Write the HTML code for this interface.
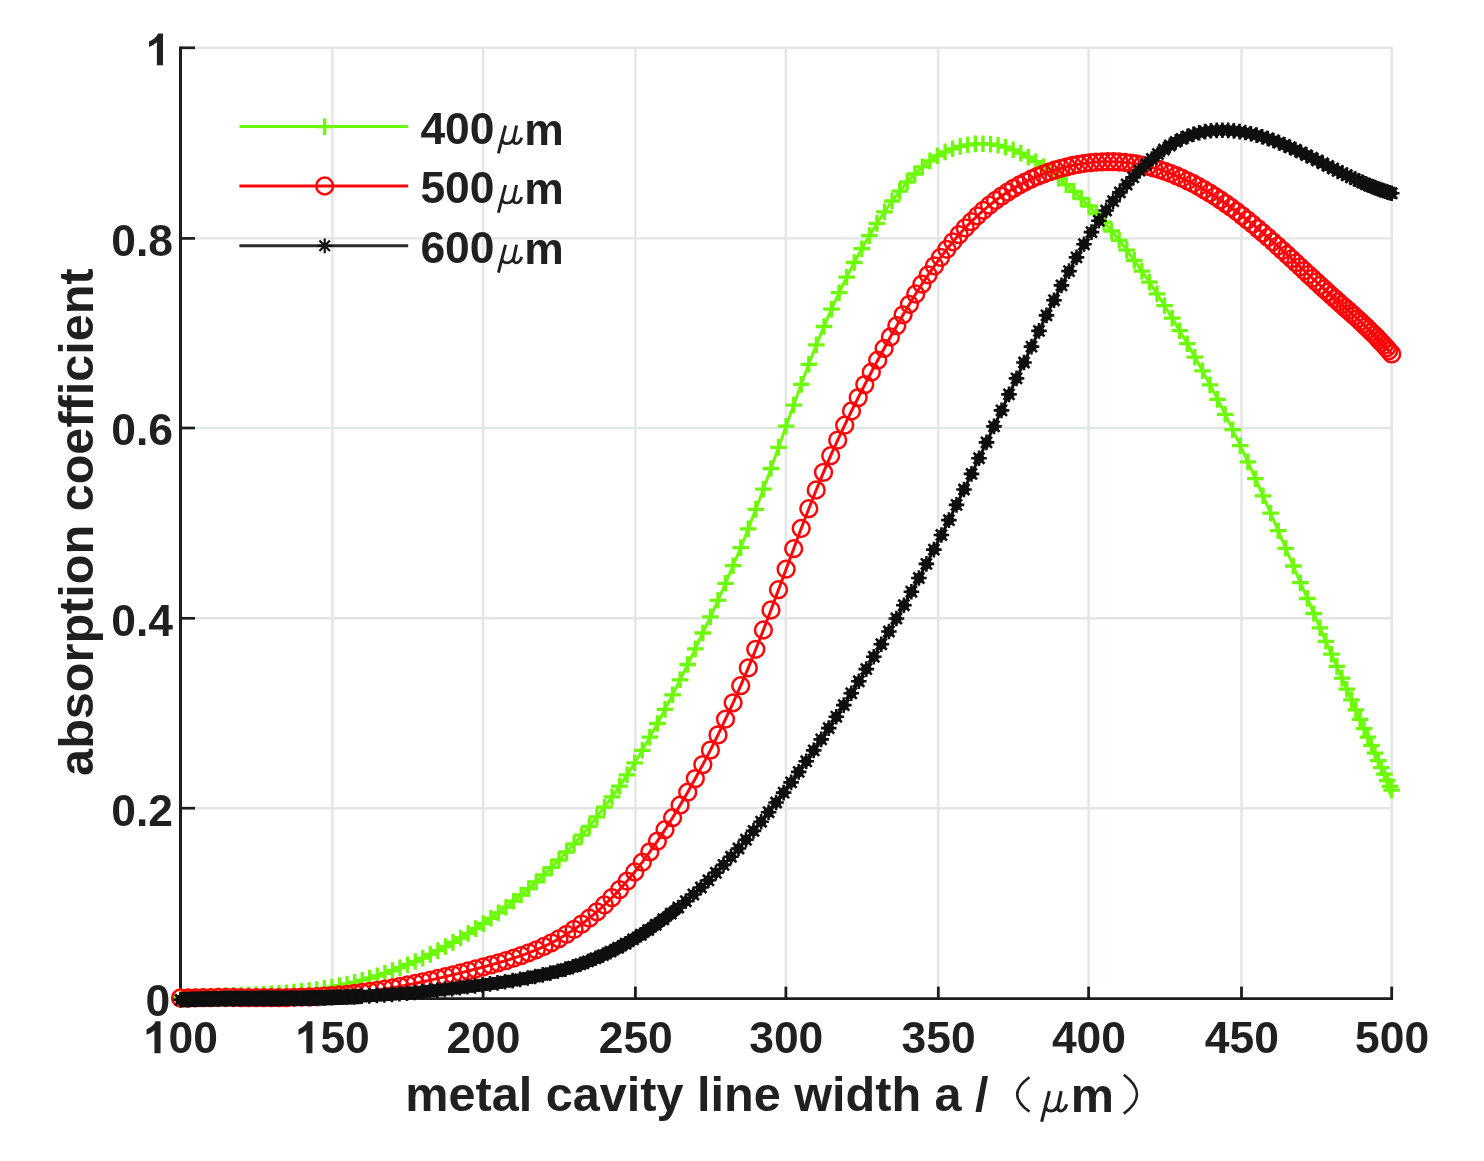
<!DOCTYPE html>
<html><head><meta charset="utf-8"><title>absorption coefficient vs metal cavity line width</title>
<style>html,body{margin:0;padding:0;background:#fff}body{width:1484px;height:1161px;overflow:hidden;font-family:"Liberation Sans",sans-serif}svg{display:block;filter:blur(0.6px)}text{font-family:"Liberation Sans",sans-serif;font-weight:bold;fill:#1f2121}</style>
</head><body>
<svg width="1484" height="1161" viewBox="0 0 1484 1161">
<rect width="1484" height="1161" fill="#fff"/>
<defs>
<g id="mp"><path d="M-8.3 0H8.3M0 -8.3V8.3" fill="none" stroke="#6dfa08" stroke-width="3.3"/></g>
<g id="mo"><circle r="8.4" fill="none" stroke="#fe0509" stroke-width="2.5"/></g>
<g id="ms"><path d="M-7.8 0H7.8M0 -7.8V7.8M-5.52 -5.52L5.52 5.52M-5.52 5.52L5.52 -5.52" fill="none" stroke="#0e0f0f" stroke-width="2.6"/><circle r="5.3" fill="#0e0f0f"/></g>
<path id="one" d="M1120 0H839V-1059Q685 -915 476 -846V-1101Q586 -1137 715 -1237.5Q844 -1338 892 -1472H1120Z" fill="#1f2121"/>
<path id="mu" d="M9.8 -18.6L3.2 9.2M6.4 -5Q7 -0.6 11 -0.6Q15.6 -0.6 17.6 -6.5M19.9 -18.6L17.2 -5Q16.4 -0.6 19.6 -0.6Q23 -0.6 24.6 -6.5" fill="none" stroke="#1f2121" stroke-width="2.7" stroke-linecap="butt"/>
<g id="msl"><path d="M-7.4 0H7.4M0 -7.4V7.4M-5.23 -5.23L5.23 5.23M-5.23 5.23L5.23 -5.23" fill="none" stroke="#0e0f0f" stroke-width="2.2"/></g>
</defs>
<g stroke="#e2e6e6" stroke-width="2.4" fill="none">
<path d="M332.4 46.5V998.6"/>
<path d="M483.1 46.5V998.6"/>
<path d="M635.4 46.5V998.6"/>
<path d="M785.9 46.5V998.6"/>
<path d="M938.3 46.5V998.6"/>
<path d="M1088.6 46.5V998.6"/>
<path d="M1241.5 46.5V998.6"/>
<path d="M1391.7 46.5V998.6"/>
<path d="M180.5 808.2H1393.0"/>
<path d="M180.5 618.3H1393.0"/>
<path d="M180.5 428.0H1393.0"/>
<path d="M180.5 238.4H1393.0"/>
<path d="M180.5 47.8H1393.0"/>
</g>
<g stroke="#1c1e1e" fill="none">
<path d="M180.5 46.5V999.9" stroke-width="3"/>
<path d="M179.0 998.6H1393.0" stroke-width="2.7"/>
<path d="M180.5 998.6V986.6" stroke-width="2.8"/>
<path d="M332.4 998.6V986.6" stroke-width="2.8"/>
<path d="M483.1 998.6V986.6" stroke-width="2.8"/>
<path d="M635.4 998.6V986.6" stroke-width="2.8"/>
<path d="M785.9 998.6V986.6" stroke-width="2.8"/>
<path d="M938.3 998.6V986.6" stroke-width="2.8"/>
<path d="M1088.6 998.6V986.6" stroke-width="2.8"/>
<path d="M1241.5 998.6V986.6" stroke-width="2.8"/>
<path d="M1391.7 998.6V986.6" stroke-width="2.8"/>
<path d="M180.5 998.6H195.0" stroke-width="2.7"/>
<path d="M180.5 808.2H195.0" stroke-width="2.7"/>
<path d="M180.5 618.3H195.0" stroke-width="2.7"/>
<path d="M180.5 428.0H195.0" stroke-width="2.7"/>
<path d="M180.5 238.4H195.0" stroke-width="2.7"/>
<path d="M180.5 47.8H195.0" stroke-width="2.7"/>
</g>
<g font-size="44.4">
<use href="#one" transform="translate(136.26 1053.20) scale(0.02168)"/>
<text x="168.5" y="1053.2">00</text>
<use href="#one" transform="translate(288.16 1053.20) scale(0.02168)"/>
<text x="320.4" y="1053.2">50</text>
<text x="446.4" y="1053.2">200</text>
<text x="598.7" y="1053.2">250</text>
<text x="749.2" y="1053.2">300</text>
<text x="901.6" y="1053.2">350</text>
<text x="1051.9" y="1053.2">400</text>
<text x="1204.8" y="1053.2">450</text>
<text x="1355.0" y="1053.2">500</text>
<text x="173" y="825.5" text-anchor="end">0.2</text>
<text x="173" y="635.6" text-anchor="end">0.4</text>
<text x="173" y="445.3" text-anchor="end">0.6</text>
<text x="173" y="255.7" text-anchor="end">0.8</text>
<text x="170.2" y="1016.2" text-anchor="end">0</text>
<use href="#one" transform="translate(138.70 65.30) scale(0.02168)"/>
</g>
<text id="xl" x="405.3" y="1111.4" font-size="48.6">metal cavity line width a /</text>
<text id="yl" transform="translate(92.7 775.9) rotate(-90)" font-size="48.6">absorption coefficient</text>
<text x="1070.8" y="1111.6" font-size="48.6">m</text>
<use href="#mu" transform="translate(1037.9 1111.6) scale(1.17 1.1)"/>
<path d="M1029.5 1077.2Q1004.9 1094.4 1029.5 1111.6" fill="none" stroke="#1f2121" stroke-width="2.6"/>
<path d="M1123.8 1074.8Q1150.2 1094.4 1123.8 1113.6" fill="none" stroke="#1f2121" stroke-width="2.6"/>
<polyline points="180.5,997.1 188.1,996.7 195.6,996.4 203.2,996.2 210.8,996.0 218.3,995.7 225.9,995.5 233.5,995.3 241.1,995.1 248.6,994.9 256.2,994.6 263.8,994.2 271.3,993.8 278.9,993.3 286.5,992.8 294.0,992.1 301.6,991.4 309.2,990.5 316.8,989.5 324.3,988.4 331.9,987.1 339.5,985.6 347.0,984.0 354.6,982.2 362.2,980.2 369.7,978.1 377.3,975.8 384.9,973.3 392.5,970.6 400.0,967.7 407.6,964.7 415.2,961.5 422.7,958.1 430.3,954.4 437.9,950.6 445.4,946.6 453.0,942.4 460.6,938.0 468.2,933.4 475.7,928.6 483.3,923.6 490.9,918.3 498.4,912.9 506.0,907.2 513.6,901.2 521.1,895.0 528.7,888.6 536.3,881.9 543.9,874.9 551.4,867.6 559.0,860.0 566.6,852.0 574.1,843.8 581.7,835.2 589.3,826.3 596.9,816.9 604.4,807.2 612.0,796.9 619.6,786.1 627.1,774.8 634.7,762.8 642.3,750.3 649.8,737.2 657.4,723.5 665.0,709.4 672.6,694.8 680.1,679.8 687.7,664.5 695.3,648.9 702.8,633.0 710.4,616.9 718.0,600.3 725.5,583.3 733.1,565.7 740.7,547.6 748.3,528.9 755.8,509.4 763.4,489.2 771.0,468.5 778.5,447.4 786.1,426.2 793.7,405.1 801.2,384.4 808.8,364.3 816.4,344.9 824.0,326.5 831.5,309.2 839.1,292.7 846.7,277.2 854.2,262.5 861.8,248.7 869.4,235.6 876.9,223.4 884.5,211.8 892.1,201.0 899.7,191.1 907.2,182.0 914.8,174.0 922.4,166.9 929.9,160.9 937.5,155.9 945.1,151.9 952.6,148.8 960.2,146.4 967.8,144.8 975.4,143.9 982.9,143.7 990.5,144.1 998.1,145.3 1005.6,147.2 1013.2,149.8 1020.8,153.1 1028.3,157.1 1035.9,161.6 1043.5,166.8 1051.1,172.3 1058.6,178.3 1066.2,184.7 1073.8,191.4 1081.3,198.5 1088.9,206.0 1096.5,213.9 1104.0,222.2 1111.6,231.0 1119.2,240.3 1126.8,250.1 1134.3,260.4 1141.9,271.1 1149.5,282.2 1157.0,293.8 1164.6,305.7 1172.2,318.1 1179.7,330.7 1187.3,343.7 1194.9,357.1 1202.5,370.8 1210.0,384.9 1217.6,399.4 1225.2,414.3 1232.7,429.7 1240.3,445.6 1247.9,461.9 1255.4,478.7 1263.0,495.8 1270.6,513.1 1278.2,530.7 1285.7,548.3 1293.3,566.0 1300.4,582.7 1307.3,598.5 1313.8,613.5 1320.0,627.8 1325.9,641.3 1331.5,654.2 1336.9,666.4 1342.0,678.1 1346.8,689.2 1351.5,699.8 1355.9,709.9 1360.1,719.4 1364.1,728.6 1367.9,737.2 1371.5,745.4 1375.0,753.2 1378.3,760.6 1381.4,767.6 1384.4,774.2 1387.3,780.5 1390.0,786.4 1391.7,790.2" fill="none" stroke="#6dfa08" stroke-width="3" stroke-linejoin="round"/>
<g>
<use href="#mp" x="180.5" y="997.1"/>
<use href="#mp" x="188.1" y="996.7"/>
<use href="#mp" x="195.6" y="996.4"/>
<use href="#mp" x="203.2" y="996.2"/>
<use href="#mp" x="210.8" y="996.0"/>
<use href="#mp" x="218.3" y="995.7"/>
<use href="#mp" x="225.9" y="995.5"/>
<use href="#mp" x="233.5" y="995.3"/>
<use href="#mp" x="241.1" y="995.1"/>
<use href="#mp" x="248.6" y="994.9"/>
<use href="#mp" x="256.2" y="994.6"/>
<use href="#mp" x="263.8" y="994.2"/>
<use href="#mp" x="271.3" y="993.8"/>
<use href="#mp" x="278.9" y="993.3"/>
<use href="#mp" x="286.5" y="992.8"/>
<use href="#mp" x="294.0" y="992.1"/>
<use href="#mp" x="301.6" y="991.4"/>
<use href="#mp" x="309.2" y="990.5"/>
<use href="#mp" x="316.8" y="989.5"/>
<use href="#mp" x="324.3" y="988.4"/>
<use href="#mp" x="331.9" y="987.1"/>
<use href="#mp" x="339.5" y="985.6"/>
<use href="#mp" x="347.0" y="984.0"/>
<use href="#mp" x="354.6" y="982.2"/>
<use href="#mp" x="362.2" y="980.2"/>
<use href="#mp" x="369.7" y="978.1"/>
<use href="#mp" x="377.3" y="975.8"/>
<use href="#mp" x="384.9" y="973.3"/>
<use href="#mp" x="392.5" y="970.6"/>
<use href="#mp" x="400.0" y="967.7"/>
<use href="#mp" x="407.6" y="964.7"/>
<use href="#mp" x="415.2" y="961.5"/>
<use href="#mp" x="422.7" y="958.1"/>
<use href="#mp" x="430.3" y="954.4"/>
<use href="#mp" x="437.9" y="950.6"/>
<use href="#mp" x="445.4" y="946.6"/>
<use href="#mp" x="453.0" y="942.4"/>
<use href="#mp" x="460.6" y="938.0"/>
<use href="#mp" x="468.2" y="933.4"/>
<use href="#mp" x="475.7" y="928.6"/>
<use href="#mp" x="483.3" y="923.6"/>
<use href="#mp" x="490.9" y="918.3"/>
<use href="#mp" x="498.4" y="912.9"/>
<use href="#mp" x="506.0" y="907.2"/>
<use href="#mp" x="513.6" y="901.2"/>
<use href="#mp" x="521.1" y="895.0"/>
<use href="#mp" x="528.7" y="888.6"/>
<use href="#mp" x="536.3" y="881.9"/>
<use href="#mp" x="543.9" y="874.9"/>
<use href="#mp" x="551.4" y="867.6"/>
<use href="#mp" x="559.0" y="860.0"/>
<use href="#mp" x="566.6" y="852.0"/>
<use href="#mp" x="574.1" y="843.8"/>
<use href="#mp" x="581.7" y="835.2"/>
<use href="#mp" x="589.3" y="826.3"/>
<use href="#mp" x="596.9" y="816.9"/>
<use href="#mp" x="604.4" y="807.2"/>
<use href="#mp" x="612.0" y="796.9"/>
<use href="#mp" x="619.6" y="786.1"/>
<use href="#mp" x="627.1" y="774.8"/>
<use href="#mp" x="634.7" y="762.8"/>
<use href="#mp" x="642.3" y="750.3"/>
<use href="#mp" x="649.8" y="737.2"/>
<use href="#mp" x="657.4" y="723.5"/>
<use href="#mp" x="665.0" y="709.4"/>
<use href="#mp" x="672.6" y="694.8"/>
<use href="#mp" x="680.1" y="679.8"/>
<use href="#mp" x="687.7" y="664.5"/>
<use href="#mp" x="695.3" y="648.9"/>
<use href="#mp" x="702.8" y="633.0"/>
<use href="#mp" x="710.4" y="616.9"/>
<use href="#mp" x="718.0" y="600.3"/>
<use href="#mp" x="725.5" y="583.3"/>
<use href="#mp" x="733.1" y="565.7"/>
<use href="#mp" x="740.7" y="547.6"/>
<use href="#mp" x="748.3" y="528.9"/>
<use href="#mp" x="755.8" y="509.4"/>
<use href="#mp" x="763.4" y="489.2"/>
<use href="#mp" x="771.0" y="468.5"/>
<use href="#mp" x="778.5" y="447.4"/>
<use href="#mp" x="786.1" y="426.2"/>
<use href="#mp" x="793.7" y="405.1"/>
<use href="#mp" x="801.2" y="384.4"/>
<use href="#mp" x="808.8" y="364.3"/>
<use href="#mp" x="816.4" y="344.9"/>
<use href="#mp" x="824.0" y="326.5"/>
<use href="#mp" x="831.5" y="309.2"/>
<use href="#mp" x="839.1" y="292.7"/>
<use href="#mp" x="846.7" y="277.2"/>
<use href="#mp" x="854.2" y="262.5"/>
<use href="#mp" x="861.8" y="248.7"/>
<use href="#mp" x="869.4" y="235.6"/>
<use href="#mp" x="876.9" y="223.4"/>
<use href="#mp" x="884.5" y="211.8"/>
<use href="#mp" x="892.1" y="201.0"/>
<use href="#mp" x="899.7" y="191.1"/>
<use href="#mp" x="907.2" y="182.0"/>
<use href="#mp" x="914.8" y="174.0"/>
<use href="#mp" x="922.4" y="166.9"/>
<use href="#mp" x="929.9" y="160.9"/>
<use href="#mp" x="937.5" y="155.9"/>
<use href="#mp" x="945.1" y="151.9"/>
<use href="#mp" x="952.6" y="148.8"/>
<use href="#mp" x="960.2" y="146.4"/>
<use href="#mp" x="967.8" y="144.8"/>
<use href="#mp" x="975.4" y="143.9"/>
<use href="#mp" x="982.9" y="143.7"/>
<use href="#mp" x="990.5" y="144.1"/>
<use href="#mp" x="998.1" y="145.3"/>
<use href="#mp" x="1005.6" y="147.2"/>
<use href="#mp" x="1013.2" y="149.8"/>
<use href="#mp" x="1020.8" y="153.1"/>
<use href="#mp" x="1028.3" y="157.1"/>
<use href="#mp" x="1035.9" y="161.6"/>
<use href="#mp" x="1043.5" y="166.8"/>
<use href="#mp" x="1051.1" y="172.3"/>
<use href="#mp" x="1058.6" y="178.3"/>
<use href="#mp" x="1066.2" y="184.7"/>
<use href="#mp" x="1073.8" y="191.4"/>
<use href="#mp" x="1081.3" y="198.5"/>
<use href="#mp" x="1088.9" y="206.0"/>
<use href="#mp" x="1096.5" y="213.9"/>
<use href="#mp" x="1104.0" y="222.2"/>
<use href="#mp" x="1111.6" y="231.0"/>
<use href="#mp" x="1119.2" y="240.3"/>
<use href="#mp" x="1126.8" y="250.1"/>
<use href="#mp" x="1134.3" y="260.4"/>
<use href="#mp" x="1141.9" y="271.1"/>
<use href="#mp" x="1149.5" y="282.2"/>
<use href="#mp" x="1157.0" y="293.8"/>
<use href="#mp" x="1164.6" y="305.7"/>
<use href="#mp" x="1172.2" y="318.1"/>
<use href="#mp" x="1179.7" y="330.7"/>
<use href="#mp" x="1187.3" y="343.7"/>
<use href="#mp" x="1194.9" y="357.1"/>
<use href="#mp" x="1202.5" y="370.8"/>
<use href="#mp" x="1210.0" y="384.9"/>
<use href="#mp" x="1217.6" y="399.4"/>
<use href="#mp" x="1225.2" y="414.3"/>
<use href="#mp" x="1232.7" y="429.7"/>
<use href="#mp" x="1240.3" y="445.6"/>
<use href="#mp" x="1247.9" y="461.9"/>
<use href="#mp" x="1255.4" y="478.7"/>
<use href="#mp" x="1263.0" y="495.8"/>
<use href="#mp" x="1270.6" y="513.1"/>
<use href="#mp" x="1278.2" y="530.7"/>
<use href="#mp" x="1285.7" y="548.3"/>
<use href="#mp" x="1293.3" y="566.0"/>
<use href="#mp" x="1300.4" y="582.7"/>
<use href="#mp" x="1307.3" y="598.5"/>
<use href="#mp" x="1313.8" y="613.5"/>
<use href="#mp" x="1320.0" y="627.8"/>
<use href="#mp" x="1325.9" y="641.3"/>
<use href="#mp" x="1331.5" y="654.2"/>
<use href="#mp" x="1336.9" y="666.4"/>
<use href="#mp" x="1342.0" y="678.1"/>
<use href="#mp" x="1346.8" y="689.2"/>
<use href="#mp" x="1351.5" y="699.8"/>
<use href="#mp" x="1355.9" y="709.9"/>
<use href="#mp" x="1360.1" y="719.4"/>
<use href="#mp" x="1364.1" y="728.6"/>
<use href="#mp" x="1367.9" y="737.2"/>
<use href="#mp" x="1371.5" y="745.4"/>
<use href="#mp" x="1375.0" y="753.2"/>
<use href="#mp" x="1378.3" y="760.6"/>
<use href="#mp" x="1381.4" y="767.6"/>
<use href="#mp" x="1384.4" y="774.2"/>
<use href="#mp" x="1387.3" y="780.5"/>
<use href="#mp" x="1390.0" y="786.4"/>
<use href="#mp" x="1391.7" y="790.2"/>
</g>
<polyline points="180.5,998.0 188.1,998.0 195.6,997.8 203.2,997.7 210.8,997.6 218.3,997.5 225.9,997.5 233.5,997.5 241.1,997.6 248.6,997.6 256.2,997.6 263.8,997.7 271.3,997.7 278.9,997.6 286.5,997.6 294.0,997.4 301.6,997.2 309.2,997.0 316.8,996.6 324.3,996.2 331.9,995.7 339.5,995.0 347.0,994.3 354.6,993.4 362.2,992.5 369.7,991.4 377.3,990.3 384.9,989.1 392.5,987.8 400.0,986.4 407.6,984.9 415.2,983.4 422.7,981.8 430.3,980.1 437.9,978.4 445.4,976.6 453.0,974.8 460.6,972.9 468.2,971.0 475.7,969.0 483.3,967.0 490.9,964.9 498.4,962.8 506.0,960.6 513.6,958.2 521.1,955.6 528.7,952.8 536.3,949.8 543.9,946.5 551.4,942.8 559.0,938.8 566.6,934.3 574.1,929.4 581.7,924.1 589.3,918.2 596.9,911.9 604.4,905.0 612.0,897.6 619.6,889.6 627.1,881.1 634.7,872.0 642.3,862.2 649.8,851.9 657.4,841.1 665.0,829.7 672.6,817.7 680.1,805.2 687.7,792.2 695.3,778.6 702.8,764.6 710.4,750.1 718.0,734.9 725.5,719.2 733.1,702.8 740.7,685.7 748.3,667.9 755.8,649.3 763.4,630.0 771.0,610.0 778.5,589.7 786.1,569.2 793.7,548.7 801.2,528.5 808.8,508.7 816.2,490.0 823.5,472.4 830.7,455.7 837.7,440.1 844.7,425.2 851.5,411.0 858.2,397.6 864.8,384.6 871.3,372.2 877.7,360.2 884.1,348.5 890.4,337.0 896.8,325.7 903.1,314.8 909.4,304.3 915.7,294.0 921.9,284.2 928.2,274.8 934.4,265.9 940.6,257.4 946.8,249.3 952.9,241.8 959.1,234.6 965.2,227.9 971.3,221.7 977.4,215.8 983.5,210.3 989.5,205.2 995.5,200.5 1001.6,196.1 1007.6,192.1 1013.5,188.4 1019.5,185.0 1025.5,181.8 1031.4,179.0 1037.4,176.4 1043.3,174.1 1049.2,171.9 1055.1,170.0 1061.0,168.3 1066.9,166.8 1072.7,165.5 1078.6,164.4 1084.4,163.4 1090.3,162.7 1096.1,162.1 1101.9,161.8 1107.7,161.7 1113.5,161.7 1119.2,162.0 1125.0,162.5 1130.8,163.1 1136.5,164.0 1142.2,165.1 1147.9,166.4 1153.6,167.9 1159.3,169.5 1165.0,171.4 1170.6,173.5 1176.3,175.7 1181.8,178.1 1187.4,180.8 1193.0,183.5 1198.5,186.5 1204.0,189.6 1209.5,192.9 1214.9,196.3 1220.4,199.9 1225.8,203.6 1231.2,207.5 1236.6,211.5 1241.9,215.6 1247.3,219.9 1252.6,224.2 1257.8,228.6 1262.9,233.0 1268.0,237.4 1272.9,241.8 1277.7,246.1 1282.4,250.4 1287.0,254.6 1291.5,258.8 1295.8,262.8 1300.1,266.8 1304.3,270.7 1308.5,274.6 1312.5,278.3 1316.4,281.9 1320.3,285.5 1324.0,288.9 1327.7,292.2 1331.3,295.5 1334.8,298.6 1338.3,301.7 1341.6,304.7 1344.9,307.6 1348.2,310.4 1351.3,313.3 1354.4,316.0 1357.4,318.8 1360.4,321.5 1363.2,324.2 1366.1,326.9 1368.8,329.5 1371.5,332.2 1374.2,334.8 1376.8,337.4 1379.3,340.1 1381.7,342.7 1384.2,345.3 1386.5,347.9 1388.8,350.6 1391.7,353.9" fill="none" stroke="#fe0509" stroke-width="3" stroke-linejoin="round"/>
<g>
<use href="#mo" x="180.5" y="998.0"/>
<use href="#mo" x="188.1" y="998.0"/>
<use href="#mo" x="195.6" y="997.8"/>
<use href="#mo" x="203.2" y="997.7"/>
<use href="#mo" x="210.8" y="997.6"/>
<use href="#mo" x="218.3" y="997.5"/>
<use href="#mo" x="225.9" y="997.5"/>
<use href="#mo" x="233.5" y="997.5"/>
<use href="#mo" x="241.1" y="997.6"/>
<use href="#mo" x="248.6" y="997.6"/>
<use href="#mo" x="256.2" y="997.6"/>
<use href="#mo" x="263.8" y="997.7"/>
<use href="#mo" x="271.3" y="997.7"/>
<use href="#mo" x="278.9" y="997.6"/>
<use href="#mo" x="286.5" y="997.6"/>
<use href="#mo" x="294.0" y="997.4"/>
<use href="#mo" x="301.6" y="997.2"/>
<use href="#mo" x="309.2" y="997.0"/>
<use href="#mo" x="316.8" y="996.6"/>
<use href="#mo" x="324.3" y="996.2"/>
<use href="#mo" x="331.9" y="995.7"/>
<use href="#mo" x="339.5" y="995.0"/>
<use href="#mo" x="347.0" y="994.3"/>
<use href="#mo" x="354.6" y="993.4"/>
<use href="#mo" x="362.2" y="992.5"/>
<use href="#mo" x="369.7" y="991.4"/>
<use href="#mo" x="377.3" y="990.3"/>
<use href="#mo" x="384.9" y="989.1"/>
<use href="#mo" x="392.5" y="987.8"/>
<use href="#mo" x="400.0" y="986.4"/>
<use href="#mo" x="407.6" y="984.9"/>
<use href="#mo" x="415.2" y="983.4"/>
<use href="#mo" x="422.7" y="981.8"/>
<use href="#mo" x="430.3" y="980.1"/>
<use href="#mo" x="437.9" y="978.4"/>
<use href="#mo" x="445.4" y="976.6"/>
<use href="#mo" x="453.0" y="974.8"/>
<use href="#mo" x="460.6" y="972.9"/>
<use href="#mo" x="468.2" y="971.0"/>
<use href="#mo" x="475.7" y="969.0"/>
<use href="#mo" x="483.3" y="967.0"/>
<use href="#mo" x="490.9" y="964.9"/>
<use href="#mo" x="498.4" y="962.8"/>
<use href="#mo" x="506.0" y="960.6"/>
<use href="#mo" x="513.6" y="958.2"/>
<use href="#mo" x="521.1" y="955.6"/>
<use href="#mo" x="528.7" y="952.8"/>
<use href="#mo" x="536.3" y="949.8"/>
<use href="#mo" x="543.9" y="946.5"/>
<use href="#mo" x="551.4" y="942.8"/>
<use href="#mo" x="559.0" y="938.8"/>
<use href="#mo" x="566.6" y="934.3"/>
<use href="#mo" x="574.1" y="929.4"/>
<use href="#mo" x="581.7" y="924.1"/>
<use href="#mo" x="589.3" y="918.2"/>
<use href="#mo" x="596.9" y="911.9"/>
<use href="#mo" x="604.4" y="905.0"/>
<use href="#mo" x="612.0" y="897.6"/>
<use href="#mo" x="619.6" y="889.6"/>
<use href="#mo" x="627.1" y="881.1"/>
<use href="#mo" x="634.7" y="872.0"/>
<use href="#mo" x="642.3" y="862.2"/>
<use href="#mo" x="649.8" y="851.9"/>
<use href="#mo" x="657.4" y="841.1"/>
<use href="#mo" x="665.0" y="829.7"/>
<use href="#mo" x="672.6" y="817.7"/>
<use href="#mo" x="680.1" y="805.2"/>
<use href="#mo" x="687.7" y="792.2"/>
<use href="#mo" x="695.3" y="778.6"/>
<use href="#mo" x="702.8" y="764.6"/>
<use href="#mo" x="710.4" y="750.1"/>
<use href="#mo" x="718.0" y="734.9"/>
<use href="#mo" x="725.5" y="719.2"/>
<use href="#mo" x="733.1" y="702.8"/>
<use href="#mo" x="740.7" y="685.7"/>
<use href="#mo" x="748.3" y="667.9"/>
<use href="#mo" x="755.8" y="649.3"/>
<use href="#mo" x="763.4" y="630.0"/>
<use href="#mo" x="771.0" y="610.0"/>
<use href="#mo" x="778.5" y="589.7"/>
<use href="#mo" x="786.1" y="569.2"/>
<use href="#mo" x="793.7" y="548.7"/>
<use href="#mo" x="801.2" y="528.5"/>
<use href="#mo" x="808.8" y="508.7"/>
<use href="#mo" x="816.2" y="490.0"/>
<use href="#mo" x="823.5" y="472.4"/>
<use href="#mo" x="830.7" y="455.7"/>
<use href="#mo" x="837.7" y="440.1"/>
<use href="#mo" x="844.7" y="425.2"/>
<use href="#mo" x="851.5" y="411.0"/>
<use href="#mo" x="858.2" y="397.6"/>
<use href="#mo" x="864.8" y="384.6"/>
<use href="#mo" x="871.3" y="372.2"/>
<use href="#mo" x="877.7" y="360.2"/>
<use href="#mo" x="884.1" y="348.5"/>
<use href="#mo" x="890.4" y="337.0"/>
<use href="#mo" x="896.8" y="325.7"/>
<use href="#mo" x="903.1" y="314.8"/>
<use href="#mo" x="909.4" y="304.3"/>
<use href="#mo" x="915.7" y="294.0"/>
<use href="#mo" x="921.9" y="284.2"/>
<use href="#mo" x="928.2" y="274.8"/>
<use href="#mo" x="934.4" y="265.9"/>
<use href="#mo" x="940.6" y="257.4"/>
<use href="#mo" x="946.8" y="249.3"/>
<use href="#mo" x="952.9" y="241.8"/>
<use href="#mo" x="959.1" y="234.6"/>
<use href="#mo" x="965.2" y="227.9"/>
<use href="#mo" x="971.3" y="221.7"/>
<use href="#mo" x="977.4" y="215.8"/>
<use href="#mo" x="983.5" y="210.3"/>
<use href="#mo" x="989.5" y="205.2"/>
<use href="#mo" x="995.5" y="200.5"/>
<use href="#mo" x="1001.6" y="196.1"/>
<use href="#mo" x="1007.6" y="192.1"/>
<use href="#mo" x="1013.5" y="188.4"/>
<use href="#mo" x="1019.5" y="185.0"/>
<use href="#mo" x="1025.5" y="181.8"/>
<use href="#mo" x="1031.4" y="179.0"/>
<use href="#mo" x="1037.4" y="176.4"/>
<use href="#mo" x="1043.3" y="174.1"/>
<use href="#mo" x="1049.2" y="171.9"/>
<use href="#mo" x="1055.1" y="170.0"/>
<use href="#mo" x="1061.0" y="168.3"/>
<use href="#mo" x="1066.9" y="166.8"/>
<use href="#mo" x="1072.7" y="165.5"/>
<use href="#mo" x="1078.6" y="164.4"/>
<use href="#mo" x="1084.4" y="163.4"/>
<use href="#mo" x="1090.3" y="162.7"/>
<use href="#mo" x="1096.1" y="162.1"/>
<use href="#mo" x="1101.9" y="161.8"/>
<use href="#mo" x="1107.7" y="161.7"/>
<use href="#mo" x="1113.5" y="161.7"/>
<use href="#mo" x="1119.2" y="162.0"/>
<use href="#mo" x="1125.0" y="162.5"/>
<use href="#mo" x="1130.8" y="163.1"/>
<use href="#mo" x="1136.5" y="164.0"/>
<use href="#mo" x="1142.2" y="165.1"/>
<use href="#mo" x="1147.9" y="166.4"/>
<use href="#mo" x="1153.6" y="167.9"/>
<use href="#mo" x="1159.3" y="169.5"/>
<use href="#mo" x="1165.0" y="171.4"/>
<use href="#mo" x="1170.6" y="173.5"/>
<use href="#mo" x="1176.3" y="175.7"/>
<use href="#mo" x="1181.8" y="178.1"/>
<use href="#mo" x="1187.4" y="180.8"/>
<use href="#mo" x="1193.0" y="183.5"/>
<use href="#mo" x="1198.5" y="186.5"/>
<use href="#mo" x="1204.0" y="189.6"/>
<use href="#mo" x="1209.5" y="192.9"/>
<use href="#mo" x="1214.9" y="196.3"/>
<use href="#mo" x="1220.4" y="199.9"/>
<use href="#mo" x="1225.8" y="203.6"/>
<use href="#mo" x="1231.2" y="207.5"/>
<use href="#mo" x="1236.6" y="211.5"/>
<use href="#mo" x="1241.9" y="215.6"/>
<use href="#mo" x="1247.3" y="219.9"/>
<use href="#mo" x="1252.6" y="224.2"/>
<use href="#mo" x="1257.8" y="228.6"/>
<use href="#mo" x="1262.9" y="233.0"/>
<use href="#mo" x="1268.0" y="237.4"/>
<use href="#mo" x="1272.9" y="241.8"/>
<use href="#mo" x="1277.7" y="246.1"/>
<use href="#mo" x="1282.4" y="250.4"/>
<use href="#mo" x="1287.0" y="254.6"/>
<use href="#mo" x="1291.5" y="258.8"/>
<use href="#mo" x="1295.8" y="262.8"/>
<use href="#mo" x="1300.1" y="266.8"/>
<use href="#mo" x="1304.3" y="270.7"/>
<use href="#mo" x="1308.5" y="274.6"/>
<use href="#mo" x="1312.5" y="278.3"/>
<use href="#mo" x="1316.4" y="281.9"/>
<use href="#mo" x="1320.3" y="285.5"/>
<use href="#mo" x="1324.0" y="288.9"/>
<use href="#mo" x="1327.7" y="292.2"/>
<use href="#mo" x="1331.3" y="295.5"/>
<use href="#mo" x="1334.8" y="298.6"/>
<use href="#mo" x="1338.3" y="301.7"/>
<use href="#mo" x="1341.6" y="304.7"/>
<use href="#mo" x="1344.9" y="307.6"/>
<use href="#mo" x="1348.2" y="310.4"/>
<use href="#mo" x="1351.3" y="313.3"/>
<use href="#mo" x="1354.4" y="316.0"/>
<use href="#mo" x="1357.4" y="318.8"/>
<use href="#mo" x="1360.4" y="321.5"/>
<use href="#mo" x="1363.2" y="324.2"/>
<use href="#mo" x="1366.1" y="326.9"/>
<use href="#mo" x="1368.8" y="329.5"/>
<use href="#mo" x="1371.5" y="332.2"/>
<use href="#mo" x="1374.2" y="334.8"/>
<use href="#mo" x="1376.8" y="337.4"/>
<use href="#mo" x="1379.3" y="340.1"/>
<use href="#mo" x="1381.7" y="342.7"/>
<use href="#mo" x="1384.2" y="345.3"/>
<use href="#mo" x="1386.5" y="347.9"/>
<use href="#mo" x="1388.8" y="350.6"/>
<use href="#mo" x="1391.7" y="353.9"/>
</g>
<polyline points="180.5,999.8 188.1,999.5 195.6,999.3 203.2,999.0 210.7,998.9 218.3,998.7 225.8,998.6 233.4,998.6 241.0,998.5 248.5,998.5 256.1,998.5 263.6,998.4 271.2,998.4 278.7,998.4 286.3,998.3 293.8,998.3 301.4,998.2 308.9,998.1 316.5,997.9 324.0,997.7 331.6,997.5 339.1,997.3 346.7,997.0 354.2,996.7 361.8,996.3 369.3,995.9 376.9,995.4 384.4,994.9 391.9,994.4 399.5,993.8 407.0,993.2 414.6,992.5 422.1,991.8 429.7,991.0 437.2,990.3 444.8,989.4 452.3,988.6 459.8,987.7 467.4,986.8 474.9,985.9 482.5,984.9 490.0,983.9 497.5,982.9 505.1,981.8 512.6,980.6 520.1,979.4 527.7,978.0 535.2,976.5 542.8,974.9 550.3,973.1 557.8,971.2 565.4,969.1 572.9,966.7 580.4,964.2 588.0,961.4 595.5,958.3 603.0,955.1 610.5,951.6 618.1,947.8 625.6,943.7 633.1,939.4 640.7,934.8 648.2,930.0 655.7,924.8 663.3,919.3 670.8,913.6 678.3,907.5 685.8,901.2 693.4,894.5 700.9,887.5 708.4,880.3 715.9,872.8 723.5,864.9 731.0,856.8 738.5,848.5 746.0,839.8 753.5,830.9 761.1,821.7 768.6,812.2 776.1,802.5 783.6,792.6 791.1,782.4 798.7,771.9 806.2,761.3 813.7,750.4 821.2,739.4 828.7,728.1 836.3,716.7 843.8,705.1 851.3,693.3 858.8,681.3 866.3,669.1 873.8,656.8 881.3,644.2 888.9,631.5 896.4,618.5 903.9,605.2 911.4,591.7 918.9,578.0 926.4,563.9 933.9,549.6 941.4,535.0 948.9,520.1 956.5,504.9 964.0,489.5 971.5,473.9 979.0,458.2 986.5,442.4 994.0,426.4 1001.5,410.4 1009.0,394.4 1016.5,378.4 1024.0,362.5 1031.5,346.6 1039.0,330.9 1046.5,315.4 1054.0,300.2 1061.5,285.4 1069.0,271.1 1076.5,257.4 1084.0,244.3 1091.5,232.1 1098.9,220.8 1106.1,210.5 1113.1,201.1 1119.9,192.4 1126.6,184.5 1133.2,177.3 1139.5,170.6 1145.8,164.5 1151.9,159.0 1157.9,154.0 1163.9,149.5 1169.8,145.5 1175.7,141.9 1181.6,138.9 1187.5,136.4 1193.4,134.3 1199.2,132.8 1205.1,131.6 1210.9,130.8 1216.7,130.4 1222.4,130.3 1228.2,130.4 1233.9,130.9 1239.6,131.6 1245.3,132.5 1250.9,133.7 1256.6,135.1 1262.2,136.7 1267.8,138.5 1273.4,140.5 1279.0,142.6 1284.5,144.9 1290.0,147.3 1295.5,149.8 1301.0,152.4 1306.5,155.1 1311.9,157.8 1317.4,160.5 1322.8,163.3 1328.0,166.0 1333.1,168.5 1337.8,170.9 1342.4,173.2 1346.7,175.3 1350.9,177.3 1354.8,179.1 1358.6,180.8 1362.1,182.4 1365.5,183.9 1368.8,185.2 1371.9,186.5 1374.8,187.6 1377.6,188.7 1380.3,189.6 1382.8,190.5 1385.2,191.3 1387.5,192.1 1389.7,192.7 1391.7,193.3" fill="none" stroke="#0e0f0f" stroke-width="3" stroke-linejoin="round"/>
<polyline points="180.5,999.8 188.1,999.5 195.6,999.3 203.2,999.0 210.7,998.9 218.3,998.7 225.8,998.6 233.4,998.6 241.0,998.5 248.5,998.5 256.1,998.5 263.6,998.4 271.2,998.4 278.7,998.4 286.3,998.3 293.8,998.3 301.4,998.2 308.9,998.1 316.5,997.9 324.0,997.7 331.6,997.5 339.1,997.3 346.7,997.0 354.2,996.7 361.8,996.3" fill="none" stroke="#0e0f0f" stroke-width="15.6"/>
<polyline points="354.2,996.7 361.8,996.3 369.3,995.9 376.9,995.4 384.4,994.9 391.9,994.4 399.5,993.8 407.0,993.2 414.6,992.5 422.1,991.8 429.7,991.0 437.2,990.3 444.8,989.4 452.3,988.6 459.8,987.7 467.4,986.8 474.9,985.9 482.5,984.9 490.0,983.9 497.5,982.9 505.1,981.8 512.6,980.6 520.1,979.4 527.7,978.0 535.2,976.5 542.8,974.9 550.3,973.1 557.8,971.2 565.4,969.1 572.9,966.7 580.4,964.2 588.0,961.4 595.5,958.3 603.0,955.1 610.5,951.6 618.1,947.8 625.6,943.7 633.1,939.4 640.7,934.8 648.2,930.0 655.7,924.8 663.3,919.3 670.8,913.6 678.3,907.5" fill="none" stroke="#0e0f0f" stroke-width="12.6"/>
<g>
<use href="#ms" x="180.5" y="999.8"/>
<use href="#ms" x="188.1" y="999.5"/>
<use href="#ms" x="195.6" y="999.3"/>
<use href="#ms" x="203.2" y="999.0"/>
<use href="#ms" x="210.7" y="998.9"/>
<use href="#ms" x="218.3" y="998.7"/>
<use href="#ms" x="225.8" y="998.6"/>
<use href="#ms" x="233.4" y="998.6"/>
<use href="#ms" x="241.0" y="998.5"/>
<use href="#ms" x="248.5" y="998.5"/>
<use href="#ms" x="256.1" y="998.5"/>
<use href="#ms" x="263.6" y="998.4"/>
<use href="#ms" x="271.2" y="998.4"/>
<use href="#ms" x="278.7" y="998.4"/>
<use href="#ms" x="286.3" y="998.3"/>
<use href="#ms" x="293.8" y="998.3"/>
<use href="#ms" x="301.4" y="998.2"/>
<use href="#ms" x="308.9" y="998.1"/>
<use href="#ms" x="316.5" y="997.9"/>
<use href="#ms" x="324.0" y="997.7"/>
<use href="#ms" x="331.6" y="997.5"/>
<use href="#ms" x="339.1" y="997.3"/>
<use href="#ms" x="346.7" y="997.0"/>
<use href="#ms" x="354.2" y="996.7"/>
<use href="#ms" x="361.8" y="996.3"/>
<use href="#ms" x="369.3" y="995.9"/>
<use href="#ms" x="376.9" y="995.4"/>
<use href="#ms" x="384.4" y="994.9"/>
<use href="#ms" x="391.9" y="994.4"/>
<use href="#ms" x="399.5" y="993.8"/>
<use href="#ms" x="407.0" y="993.2"/>
<use href="#ms" x="414.6" y="992.5"/>
<use href="#ms" x="422.1" y="991.8"/>
<use href="#ms" x="429.7" y="991.0"/>
<use href="#ms" x="437.2" y="990.3"/>
<use href="#ms" x="444.8" y="989.4"/>
<use href="#ms" x="452.3" y="988.6"/>
<use href="#ms" x="459.8" y="987.7"/>
<use href="#ms" x="467.4" y="986.8"/>
<use href="#ms" x="474.9" y="985.9"/>
<use href="#ms" x="482.5" y="984.9"/>
<use href="#ms" x="490.0" y="983.9"/>
<use href="#ms" x="497.5" y="982.9"/>
<use href="#ms" x="505.1" y="981.8"/>
<use href="#ms" x="512.6" y="980.6"/>
<use href="#ms" x="520.1" y="979.4"/>
<use href="#ms" x="527.7" y="978.0"/>
<use href="#ms" x="535.2" y="976.5"/>
<use href="#ms" x="542.8" y="974.9"/>
<use href="#ms" x="550.3" y="973.1"/>
<use href="#ms" x="557.8" y="971.2"/>
<use href="#ms" x="565.4" y="969.1"/>
<use href="#ms" x="572.9" y="966.7"/>
<use href="#ms" x="580.4" y="964.2"/>
<use href="#ms" x="588.0" y="961.4"/>
<use href="#ms" x="595.5" y="958.3"/>
<use href="#ms" x="603.0" y="955.1"/>
<use href="#ms" x="610.5" y="951.6"/>
<use href="#ms" x="618.1" y="947.8"/>
<use href="#ms" x="625.6" y="943.7"/>
<use href="#ms" x="633.1" y="939.4"/>
<use href="#ms" x="640.7" y="934.8"/>
<use href="#ms" x="648.2" y="930.0"/>
<use href="#ms" x="655.7" y="924.8"/>
<use href="#ms" x="663.3" y="919.3"/>
<use href="#ms" x="670.8" y="913.6"/>
<use href="#ms" x="678.3" y="907.5"/>
<use href="#ms" x="685.8" y="901.2"/>
<use href="#ms" x="693.4" y="894.5"/>
<use href="#ms" x="700.9" y="887.5"/>
<use href="#ms" x="708.4" y="880.3"/>
<use href="#ms" x="715.9" y="872.8"/>
<use href="#ms" x="723.5" y="864.9"/>
<use href="#ms" x="731.0" y="856.8"/>
<use href="#ms" x="738.5" y="848.5"/>
<use href="#ms" x="746.0" y="839.8"/>
<use href="#ms" x="753.5" y="830.9"/>
<use href="#ms" x="761.1" y="821.7"/>
<use href="#ms" x="768.6" y="812.2"/>
<use href="#ms" x="776.1" y="802.5"/>
<use href="#ms" x="783.6" y="792.6"/>
<use href="#ms" x="791.1" y="782.4"/>
<use href="#ms" x="798.7" y="771.9"/>
<use href="#ms" x="806.2" y="761.3"/>
<use href="#ms" x="813.7" y="750.4"/>
<use href="#ms" x="821.2" y="739.4"/>
<use href="#ms" x="828.7" y="728.1"/>
<use href="#ms" x="836.3" y="716.7"/>
<use href="#ms" x="843.8" y="705.1"/>
<use href="#ms" x="851.3" y="693.3"/>
<use href="#ms" x="858.8" y="681.3"/>
<use href="#ms" x="866.3" y="669.1"/>
<use href="#ms" x="873.8" y="656.8"/>
<use href="#ms" x="881.3" y="644.2"/>
<use href="#ms" x="888.9" y="631.5"/>
<use href="#ms" x="896.4" y="618.5"/>
<use href="#ms" x="903.9" y="605.2"/>
<use href="#ms" x="911.4" y="591.7"/>
<use href="#ms" x="918.9" y="578.0"/>
<use href="#ms" x="926.4" y="563.9"/>
<use href="#ms" x="933.9" y="549.6"/>
<use href="#ms" x="941.4" y="535.0"/>
<use href="#ms" x="948.9" y="520.1"/>
<use href="#ms" x="956.5" y="504.9"/>
<use href="#ms" x="964.0" y="489.5"/>
<use href="#ms" x="971.5" y="473.9"/>
<use href="#ms" x="979.0" y="458.2"/>
<use href="#ms" x="986.5" y="442.4"/>
<use href="#ms" x="994.0" y="426.4"/>
<use href="#ms" x="1001.5" y="410.4"/>
<use href="#ms" x="1009.0" y="394.4"/>
<use href="#ms" x="1016.5" y="378.4"/>
<use href="#ms" x="1024.0" y="362.5"/>
<use href="#ms" x="1031.5" y="346.6"/>
<use href="#ms" x="1039.0" y="330.9"/>
<use href="#ms" x="1046.5" y="315.4"/>
<use href="#ms" x="1054.0" y="300.2"/>
<use href="#ms" x="1061.5" y="285.4"/>
<use href="#ms" x="1069.0" y="271.1"/>
<use href="#ms" x="1076.5" y="257.4"/>
<use href="#ms" x="1084.0" y="244.3"/>
<use href="#ms" x="1091.5" y="232.1"/>
<use href="#ms" x="1098.9" y="220.8"/>
<use href="#ms" x="1106.1" y="210.5"/>
<use href="#ms" x="1113.1" y="201.1"/>
<use href="#ms" x="1119.9" y="192.4"/>
<use href="#ms" x="1126.6" y="184.5"/>
<use href="#ms" x="1133.2" y="177.3"/>
<use href="#ms" x="1139.5" y="170.6"/>
<use href="#ms" x="1145.8" y="164.5"/>
<use href="#ms" x="1151.9" y="159.0"/>
<use href="#ms" x="1157.9" y="154.0"/>
<use href="#ms" x="1163.9" y="149.5"/>
<use href="#ms" x="1169.8" y="145.5"/>
<use href="#ms" x="1175.7" y="141.9"/>
<use href="#ms" x="1181.6" y="138.9"/>
<use href="#ms" x="1187.5" y="136.4"/>
<use href="#ms" x="1193.4" y="134.3"/>
<use href="#ms" x="1199.2" y="132.8"/>
<use href="#ms" x="1205.1" y="131.6"/>
<use href="#ms" x="1210.9" y="130.8"/>
<use href="#ms" x="1216.7" y="130.4"/>
<use href="#ms" x="1222.4" y="130.3"/>
<use href="#ms" x="1228.2" y="130.4"/>
<use href="#ms" x="1233.9" y="130.9"/>
<use href="#ms" x="1239.6" y="131.6"/>
<use href="#ms" x="1245.3" y="132.5"/>
<use href="#ms" x="1250.9" y="133.7"/>
<use href="#ms" x="1256.6" y="135.1"/>
<use href="#ms" x="1262.2" y="136.7"/>
<use href="#ms" x="1267.8" y="138.5"/>
<use href="#ms" x="1273.4" y="140.5"/>
<use href="#ms" x="1279.0" y="142.6"/>
<use href="#ms" x="1284.5" y="144.9"/>
<use href="#ms" x="1290.0" y="147.3"/>
<use href="#ms" x="1295.5" y="149.8"/>
<use href="#ms" x="1301.0" y="152.4"/>
<use href="#ms" x="1306.5" y="155.1"/>
<use href="#ms" x="1311.9" y="157.8"/>
<use href="#ms" x="1317.4" y="160.5"/>
<use href="#ms" x="1322.8" y="163.3"/>
<use href="#ms" x="1328.0" y="166.0"/>
<use href="#ms" x="1333.1" y="168.5"/>
<use href="#ms" x="1337.8" y="170.9"/>
<use href="#ms" x="1342.4" y="173.2"/>
<use href="#ms" x="1346.7" y="175.3"/>
<use href="#ms" x="1350.9" y="177.3"/>
<use href="#ms" x="1354.8" y="179.1"/>
<use href="#ms" x="1358.6" y="180.8"/>
<use href="#ms" x="1362.1" y="182.4"/>
<use href="#ms" x="1365.5" y="183.9"/>
<use href="#ms" x="1368.8" y="185.2"/>
<use href="#ms" x="1371.9" y="186.5"/>
<use href="#ms" x="1374.8" y="187.6"/>
<use href="#ms" x="1377.6" y="188.7"/>
<use href="#ms" x="1380.3" y="189.6"/>
<use href="#ms" x="1382.8" y="190.5"/>
<use href="#ms" x="1385.2" y="191.3"/>
<use href="#ms" x="1387.5" y="192.1"/>
<use href="#ms" x="1389.7" y="192.7"/>
<use href="#ms" x="1391.7" y="193.3"/>
</g>
<path d="M239.4 126.6H408.2" stroke="#6dfa08" stroke-width="3" fill="none"/>
<use href="#mp" x="324.7" y="126.6"/>
<text x="420.4" y="143.6" font-size="44.4">400</text>
<use href="#mu" transform="translate(494.9 144.2) scale(1.09 1)"/>
<text x="524.2" y="144.5" font-size="44.4">m</text>
<path d="M239.4 186.0H408.2" stroke="#fe0509" stroke-width="3" fill="none"/>
<use href="#mo" x="324.7" y="186.0"/>
<text x="420.4" y="203.0" font-size="44.4">500</text>
<use href="#mu" transform="translate(494.9 203.6) scale(1.09 1)"/>
<text x="524.2" y="203.9" font-size="44.4">m</text>
<path d="M239.4 245.8H408.2" stroke="#2b2b2b" stroke-width="3" fill="none"/>
<use href="#msl" x="324.7" y="245.8"/>
<text x="420.4" y="262.8" font-size="44.4">600</text>
<use href="#mu" transform="translate(494.9 263.4) scale(1.09 1)"/>
<text x="524.2" y="263.7" font-size="44.4">m</text>
</svg></body></html>
